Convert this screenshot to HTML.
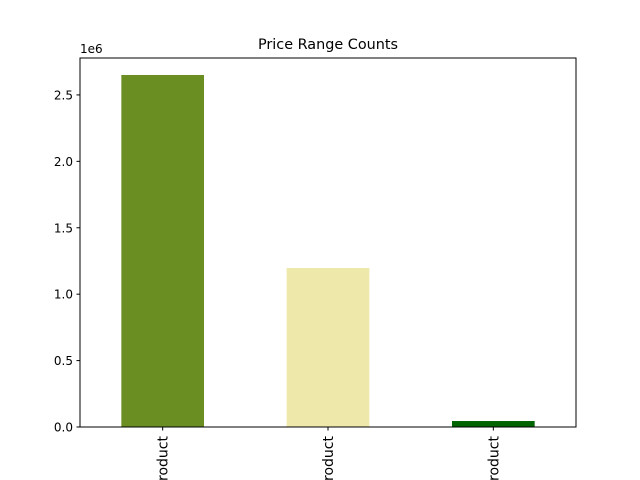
<!DOCTYPE html>
<html><head><meta charset="utf-8"><style>
html,body{margin:0;background:#fff;overflow:hidden;width:640px;height:480px;}
svg{display:block;}
svg text{font-family:"DejaVu Sans","Liberation Sans",sans-serif;}
</style></head><body>
<svg id="chart" width="640" height="480" overflow="hidden">
<rect width="640" height="480" fill="#fff"/>
<text x="328" y="49" font-size="14.4" text-anchor="middle">Price Range Counts</text>
<text x="80" y="53" font-size="12">1e6</text>
<g id="bars"></g><g id="yticks"></g><g id="xticks"></g>
<rect x="80" y="58" width="496" height="369" fill="none" stroke="#000" stroke-width="1"/>
</svg>
<script>
const categories = ["Budget Product","Mid-range Product","Premium Product"];
const counts = [2650000,1197000,45000];
const colors = ["#6b8e23","#eee8aa","#006400"];
const yTicks = [0,500000,1000000,1500000,2000000,2500000];
const yTickLabels = ["0.0","0.5","1.0","1.5","2.0","2.5"];
const L=80,R=576,T=58,B=427,yMax=2778000;
const ns="http://www.w3.org/2000/svg";
const x=i=>L+(i+0.5)*(R-L)/categories.length;
const y=v=>B-v/yMax*(B-T);
const bw=0.5*(R-L)/categories.length;
function mk(t,a){const e=document.createElementNS(ns,t);for(const k in a)e.setAttribute(k,a[k]);return e;}
const bars=document.getElementById('bars'),yt=document.getElementById('yticks'),xt=document.getElementById('xticks');
categories.forEach((c,i)=>{
 const r=mk('rect',{x:x(i)-bw/2,y:y(counts[i]),width:bw,height:B-y(counts[i]),fill:colors[i]});
 
 
 bars.appendChild(r);
 const tk=mk('line',{x1:x(i),x2:x(i),y1:B,y2:B+3.5,stroke:'#000'});
 
 
 xt.appendChild(tk);
 const tx=mk('text',{x:0,y:0,'font-size':14,'text-anchor':'end',transform:`translate(${x(i)+5},${B+9}) rotate(-90)`});
 tx.textContent=c;
 
 
 xt.appendChild(tx);
});
yTicks.forEach((v,i)=>{
 const tk=mk('line',{x1:L-3.5,x2:L,y1:y(v),y2:y(v),stroke:'#000'});
 
 
 yt.appendChild(tk);
 const tx=mk('text',{x:L-7,y:y(v)+4.5,'font-size':12,'text-anchor':'end'});
 tx.textContent=yTickLabels[i];
 
 
 yt.appendChild(tx);
});
</script>
</body></html>
